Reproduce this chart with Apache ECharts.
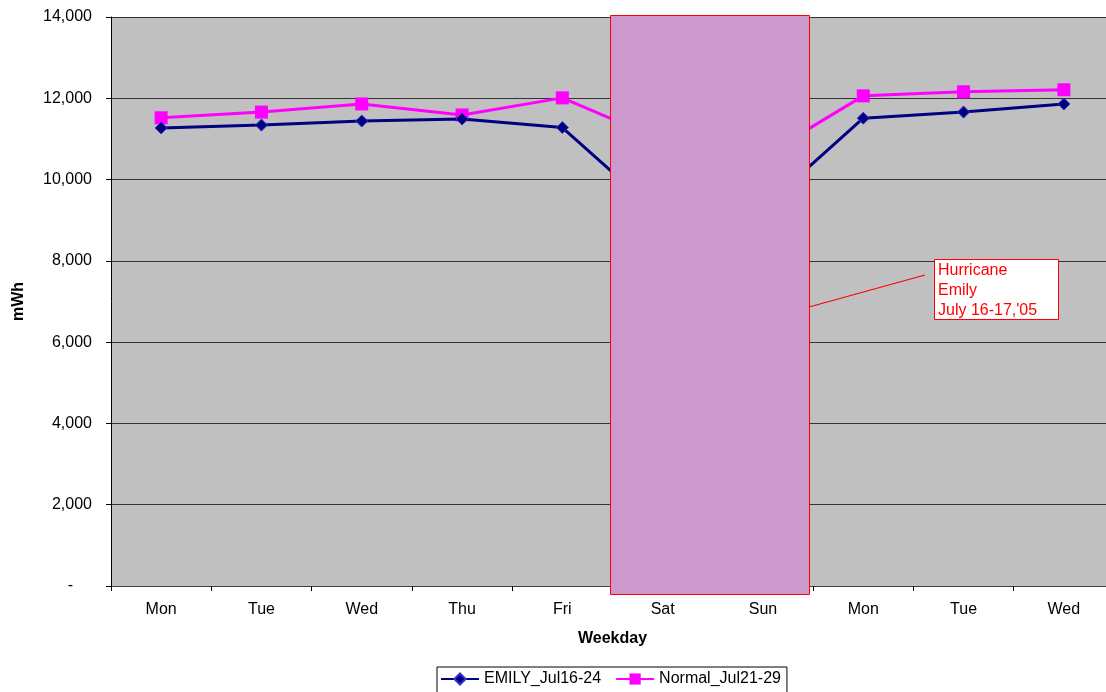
<!DOCTYPE html>
<html>
<head>
<meta charset="utf-8">
<script src="https://cdn.jsdelivr.net/npm/echarts@6/dist/echarts.min.js"></script>
<style>
  html, body { margin: 0; padding: 0; background: #fff; overflow: hidden; }
  #chart { width: 1114px; height: 692px; }
</style>
</head>
<body>
<div id="chart"></div>
<script>
// Daily load, hurricane week vs. a normal week
const days = ['Mon', 'Tue', 'Wed', 'Thu', 'Fri', 'Sat', 'Sun', 'Mon', 'Tue', 'Wed'];
const emily = [11270, 11340, 11440, 11490, 11280, 9080, 9300, 11510, 11660, 11860];
const normal = [11520, 11660, 11860, 11590, 12010, 10960, 10570, 12060, 12160, 12210];
const yTicks = [0, 2000, 4000, 6000, 8000, 10000, 12000, 14000];
const stormDays = ['Sat', 'Sun'];
const noteLines = ['Hurricane', 'Emily', "July 16-17,'05"];

const FONT = '"Liberation Sans", Arial, sans-serif';
const chart = echarts.init(document.getElementById('chart'));

function fmtTick(v) {
  if (v === 0) return '{d|-}';
  return String(v).replace(/\B(?=(\d{3})+(?!\d))/g, ',');
}

chart.setOption({
  animation: false,
  backgroundColor: '#ffffff',
  textStyle: { fontFamily: FONT },
  grid: { left: 111, top: 17, right: 0, bottom: 106, show: true, backgroundColor: '#C0C0C0', borderWidth: 0 },
  legend: {
    left: 437, top: 667,
    padding: [4, 6, 6, 3],
    borderColor: '#000', borderWidth: 1,
    itemWidth: 38, itemHeight: 14, itemGap: 14,
    textStyle: { fontFamily: FONT, fontSize: 16, color: '#000' },
    data: ['EMILY_Jul16-24', 'Normal_Jul21-29']
  },
  xAxis: {
    type: 'category',
    data: days,
    boundaryGap: true,
    name: 'Weekday',
    nameLocation: 'middle',
    nameGap: 45,
    nameTextStyle: { fontFamily: FONT, fontSize: 16, fontWeight: 'bold', color: '#000' },
    axisLine: { lineStyle: { color: '#404040', width: 1 } },
    axisTick: { show: true, length: 5, lineStyle: { color: '#000' } },
    axisLabel: { fontFamily: FONT, fontSize: 16, color: '#000', margin: 16 },
    splitLine: { show: false }
  },
  yAxis: {
    type: 'value',
    min: yTicks[0], max: yTicks[yTicks.length - 1], interval: 2000,
    name: 'mWh',
    nameLocation: 'middle',
    nameGap: 84,
    nameRotate: 90,
    nameTextStyle: { fontFamily: FONT, fontSize: 16, fontWeight: 'bold', color: '#000' },
    axisLine: { show: true, lineStyle: { color: '#000', width: 1 } },
    axisTick: { show: true, length: 5, lineStyle: { color: '#000' } },
    axisLabel: {
      fontFamily: FONT, fontSize: 16, color: '#000', margin: 19,
      formatter: fmtTick,
      rich: { d: { fontFamily: FONT, fontSize: 16, color: '#000', padding: [0, 19, 0, 0] } }
    },
    splitLine: { show: true, lineStyle: { color: '#333', width: 1 } }
  },
  series: [
    {
      name: 'EMILY_Jul16-24',
      type: 'line',
      data: emily,
      symbol: 'diamond',
      symbolSize: 12,
      lineStyle: { color: '#000080', width: 3 },
      itemStyle: { color: '#000080', borderColor: '#3333CC', borderWidth: 1 },
      z: 3
    },
    {
      name: 'Normal_Jul21-29',
      type: 'line',
      data: normal,
      symbol: 'rect',
      symbolSize: 13,
      lineStyle: { color: '#FF00FF', width: 3 },
      itemStyle: { color: '#FF00FF' },
      z: 2
    }
  ]
});

// Shade the storm weekend over the plot and annotate it
const xa = chart.convertToPixel({ xAxisIndex: 0 }, days.indexOf(stormDays[0]));
const xb = chart.convertToPixel({ xAxisIndex: 0 }, days.lastIndexOf(stormDays[1]));
const half = (xb - xa) / 2;
const yTop = chart.convertToPixel({ yAxisIndex: 0 }, yTicks[yTicks.length - 1]);
const yBot = chart.convertToPixel({ yAxisIndex: 0 }, 0);
const rx0 = Math.round(xa - half - 3);
const rx1 = Math.round(xb + half - 4);

chart.setOption({
  graphic: [
    {
      type: 'rect', z: 100,
      shape: { x: rx0 + 0.5, y: yTop - 2 + 0.5, width: rx1 - rx0, height: yBot - yTop + 10 },
      style: { fill: '#CC99CC', stroke: '#FF0000', lineWidth: 1 }
    },
    {
      type: 'line', z: 100,
      shape: { x1: rx1, y1: 307, x2: 925, y2: 275 },
      style: { stroke: '#FF0000', lineWidth: 1.2 }
    },
    {
      type: 'group', z: 100, left: 934, top: 259,
      children: [
        {
          type: 'rect', z: 100,
          shape: { x: 0.5, y: 0.5, width: 124, height: 60 },
          style: { fill: '#ffffff', stroke: '#FF0000', lineWidth: 1 }
        },
        {
          type: 'text', z: 101, x: 4, y: 2,
          style: {
            text: noteLines.join('\n'),
            fontFamily: FONT, fontSize: 16, lineHeight: 20,
            fill: '#FF0000'
          }
        }
      ]
    }
  ]
});
</script>
</body>
</html>
